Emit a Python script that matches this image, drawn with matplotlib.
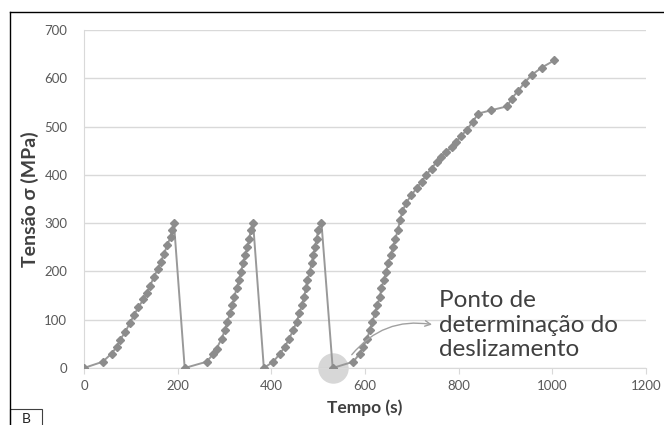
import matplotlib
matplotlib.use("Agg")
import matplotlib.pyplot as plt
from matplotlib.patches import Rectangle

plt.rcParams['font.family'] = ['Lato', 'DejaVu Sans']

# tempo (s) e tensão (MPa)
tempo = [0, 40, 59, 70, 77, 88, 98, 107, 116, 127, 134, 141, 149, 157, 164,
         171, 178, 185, 188, 192,
         215, 262, 276, 283, 294, 301, 306, 312, 317, 321, 326, 331, 335, 340,
         344, 349, 353, 356, 361,
         384, 404, 418, 429, 438, 447, 454, 460, 465, 470, 474, 477, 482, 486,
         490, 493, 497, 500, 507,
         531, 575, 589, 596, 605, 610, 616, 621, 626, 632, 635, 640, 645, 650,
         655, 660, 665, 670, 675, 680, 688, 699, 710, 721, 731, 742, 753, 763,
         774, 785, 795, 806, 817, 830, 842, 870, 904, 913, 927, 941, 956, 977,
         1004]
tensao = [0, 13, 30, 44, 58, 75, 93, 110, 126, 142, 156, 170, 188, 204, 220,
          237, 255, 272, 286, 301,
          0, 13, 29, 40, 61, 79, 96, 113, 130, 148, 165, 182, 199, 217,
          234, 251, 268, 286, 301,
          0, 13, 29, 44, 61, 79, 96, 113, 130, 148, 165, 182, 199, 217,
          234, 251, 268, 286, 301,
          0, 13, 30, 44, 61, 79, 96, 113, 130, 148, 165, 182, 199, 217,
          234, 251, 268, 286, 306, 325, 342, 358, 372, 386, 400, 413, 427, 437,
          448, 458, 469, 481, 493, 510, 527, 534, 542, 558, 574, 591, 607, 622,
          637]

ponto_desliz = (531, 0)
texto = "Ponto de\ndeterminação do\ndeslizamento"

fig = plt.figure(figsize=(6.64, 4.25), dpi=100)
ax = fig.add_axes([84/664, 1-368/425, (646-84)/664, (368-30)/425])

ax.plot(tempo, tensao, color='#999999', lw=1.4, marker='D', ms=3.6,
        mfc='#8c8c8c', mec='#8c8c8c', zorder=3)

ax.scatter([ponto_desliz[0]], [ponto_desliz[1]], s=480, color='#d0d0d0',
           alpha=0.85, zorder=2, lw=0, clip_on=False)

ax.annotate('', xy=(749, 89), xytext=(568, 23),
            arrowprops=dict(arrowstyle='->', color='#a0a0a0', lw=1,
                            connectionstyle='arc3,rad=-0.3'))
ax.text(758, 89, texto, fontsize=17.5, color='#404040', va='center',
        ha='left', linespacing=1.2)

ax.set_xlim(0, 1200)
ax.set_ylim(0, 700)
ax.set_xticks(range(0, 1201, 200))
ax.set_yticks(range(0, 701, 100))
ax.grid(axis='y', color='#d9d9d9', lw=1)
ax.set_axisbelow(True)
for s in ['top', 'right']:
    ax.spines[s].set_visible(False)
ax.spines['left'].set_color('#d9d9d9')
ax.spines['bottom'].set_color('#d9d9d9')
ax.tick_params(axis='x', length=4, color='#d9d9d9', labelcolor='#595959',
               labelsize=9.5, pad=5)
ax.tick_params(axis='y', length=0, labelcolor='#595959', labelsize=9.5, pad=12)

ax.set_xlabel('Tempo (s)', fontsize=12.5, fontweight='bold', color='#404040',
              labelpad=5)
ax.set_ylabel('Tensão σ (MPa)', fontsize=14, fontweight='bold',
              color='#404040', labelpad=4)

# moldura e rótulo B
fig.add_artist(plt.Line2D([10/664, 10/664], [0, 1-12/425], color='black',
                          lw=1, transform=fig.transFigure))
fig.add_artist(plt.Line2D([10/664, 1], [1-12/425, 1-12/425], color='black',
                          lw=1, transform=fig.transFigure))
fig.add_artist(Rectangle((10/664, -0.01), 32/664, 1-409/425 + 0.01,
                         transform=fig.transFigure, fill=False,
                         ec='#404040', lw=0.8))
fig.text(26/664, 0.0, 'B', ha='center', va='bottom', fontsize=10,
         color='#222222')

fig.savefig('out.png', dpi=100)
